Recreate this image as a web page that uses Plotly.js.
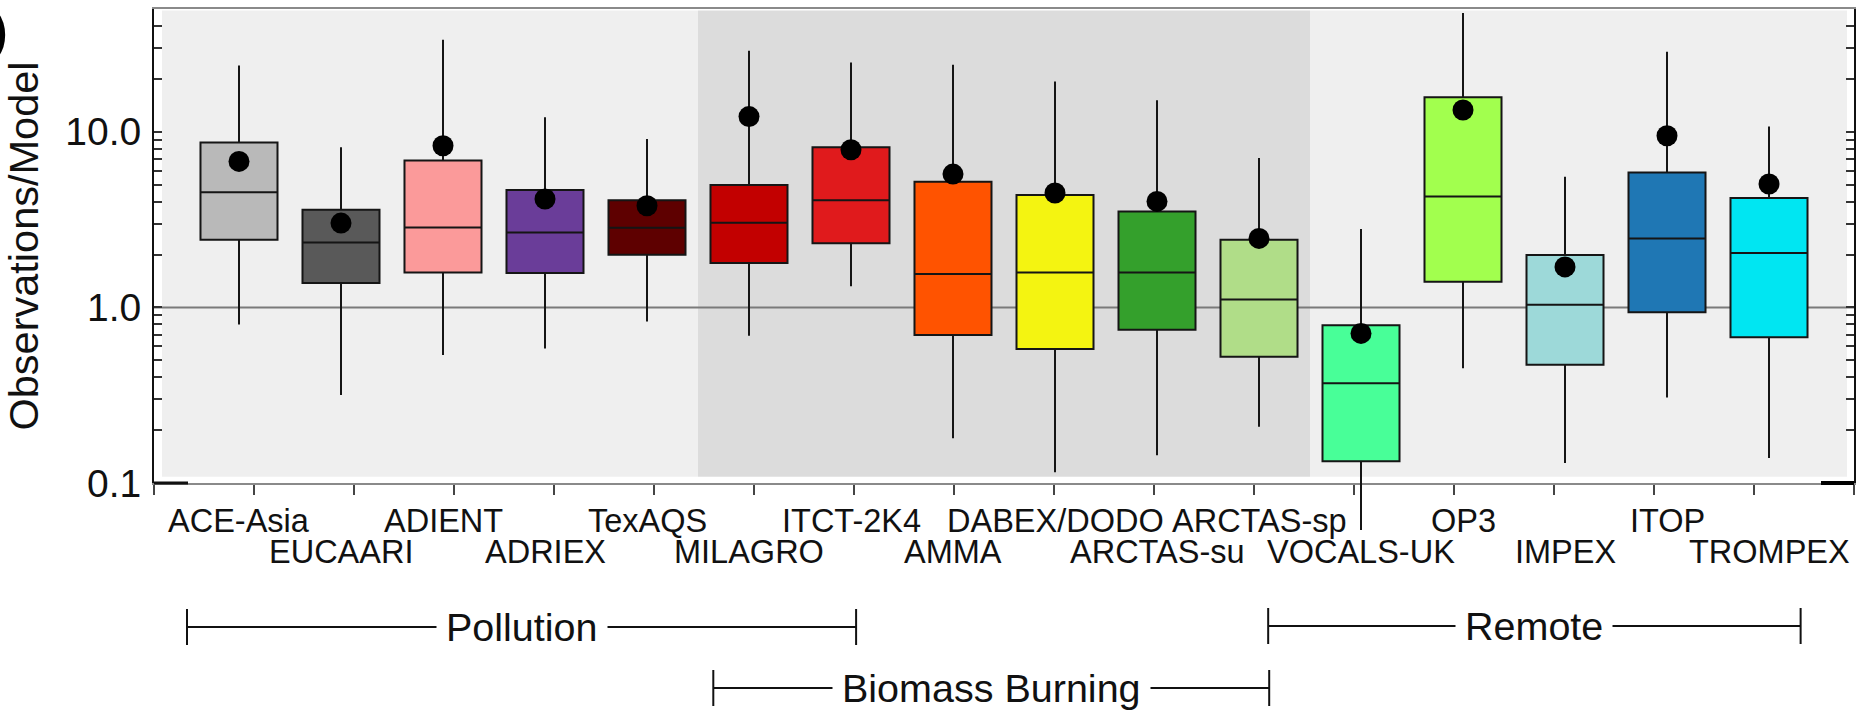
<!DOCTYPE html>
<html>
<head>
<meta charset="utf-8">
<script src="https://cdn.plot.ly/plotly-3.0.1.min.js"></script>
<style>html,body{margin:0;padding:0;background:#fff;}#chart{width:1856px;height:713px;}</style>
</head>
<body>
<div id="chart"></div>
<script>
// ---- data ----
const categories = ['ACE-Asia','EUCAARI','ADIENT','ADRIEX','TexAQS','MILAGRO','ITCT-2K4','AMMA',
  'DABEX/DODO','ARCTAS-su','ARCTAS-sp','VOCALS-UK','OP3','IMPEX','ITOP','TROMPEX'];
const upperWhisker = [23.8, 8.15, 33.4, 12.1, 9.1, 28.9, 24.8, 24.1, 19.3, 15.1, 7.1, 2.79, 47.4, 5.54, 28.5, 10.7];
const q3Values     = [8.7, 3.6, 6.87, 4.66, 4.08, 4.97, 8.15, 5.19, 4.36, 3.51, 2.43, 0.79, 15.7, 1.99, 5.87, 4.19];
const medianValues = [4.52, 2.34, 2.85, 2.67, 2.84, 3.03, 4.08, 1.55, 1.58, 1.58, 1.11, 0.37, 4.28, 1.035, 2.47, 2.04];
const q1Values     = [2.43, 1.375, 1.58, 1.57, 1.995, 1.79, 2.32, 0.696, 0.579, 0.746, 0.524, 0.133, 1.40, 0.472, 0.937, 0.675];
const lowerWhisker = [0.80, 0.317, 0.535, 0.584, 0.83, 0.69, 1.32, 0.18, 0.115, 0.144, 0.209, 0.054, 0.45, 0.130, 0.307, 0.139];
const meanValues   = [6.78, 3.02, 8.32, 4.14, 3.79, 12.2, 7.9, 5.74, 4.48, 4.01, 2.47, 0.711, 13.3, 1.70, 9.49, 5.04];
const boxColors = ['#b9b9b9','#595959','#fb9a9a','#6a3d99','#5e0000','#c20000','#e01a1c','#ff5300',
  '#f4f411','#34a02c','#b0dd88','#48ff98','#a2ff4e','#9dd9d9','#1f77b4','#00e6f2'];
const yTickVals = [0.1,0.2,0.3,0.4,0.5,0.6,0.7,0.8,0.9,1,2,3,4,5,6,7,8,9,10,20,30,40,50];
const yTickText = yTickVals.map(v => v === 0.1 ? '0.1' : v === 1 ? '1.0' : v === 10 ? '10.0' : '');
const groupNames = ['Pollution', 'Biomass Burning', 'Remote'];
const yTitle = 'Observations/Model';

// ---- layout geometry ----
const W = 1856, H = 713;
const M = {l:154, r:2, t:9, b:113};
const plotW = W - M.l - M.r, plotH = H - M.t - M.b;
const py = px => (H - M.b - px) / plotH;          // pixel row -> paper y
const pxX = px => (px - M.l) / plotW;             // pixel column -> paper x
const yTop = Math.log10(50), yBot = -1;
const axisBottomPx = 483;
const pxPerDec = (axisBottomPx - M.t) / (yTop - yBot);
const y2Bot = yBot - (H - M.b - axisBottomPx) / pxPerDec;
const xMin = -0.8333, xMax = 15.8333;
const FONT = '"Liberation Sans", Arial, Helvetica, sans-serif';
const idx = categories.map((c, i) => i);

const traces = [];
categories.forEach((c, i) => {
  traces.push({
    type: 'box', name: c, x: [idx[i]],
    q1: [q1Values[i]], median: [medianValues[i]], q3: [q3Values[i]],
    lowerfence: [lowerWhisker[i]], upperfence: [upperWhisker[i]],
    fillcolor: boxColors[i], line: {color: '#151515', width: 2},
    whiskerwidth: 0, width: 0.755, boxpoints: false,
    xaxis: 'x', yaxis: 'y2', showlegend: false, hoverinfo: 'skip'
  });
});
traces.push({
  type: 'scatter', mode: 'markers', x: idx, y: meanValues,
  marker: {color: '#000', size: 21}, xaxis: 'x', yaxis: 'y2',
  showlegend: false, hoverinfo: 'skip', cliponaxis: false
});

const grpSpan = [[-0.51, 6.05, 627], [4.65, 10.1, 688], [10.09, 15.31, 626]];
const shapes = [
  {type:'rect', xref:'x', yref:'y domain', x0:-0.755, x1:4.5, y0:0.013, y1:0.997, fillcolor:'#efefef', line:{width:0}, layer:'below'},
  {type:'rect', xref:'x', yref:'y domain', x0:4.5, x1:10.5, y0:0.013, y1:0.997, fillcolor:'#dcdcdc', line:{width:0}, layer:'below'},
  {type:'rect', xref:'x', yref:'y domain', x0:10.5, x1:15.765, y0:0.013, y1:0.997, fillcolor:'#efefef', line:{width:0}, layer:'below'},
  {type:'line', xref:'x domain', yref:'y', x0:0, x1:1, y0:1, y1:1, line:{color:'#7a7a7a', width:2}, layer:'below'},
  // dark end segments of the bottom axis
  {type:'line', xref:'paper', yref:'paper', x0:pxX(154), x1:pxX(188), y0:py(axisBottomPx), y1:py(axisBottomPx), line:{color:'#111', width:3}},
  {type:'line', xref:'paper', yref:'paper', x0:pxX(1821), x1:pxX(1854), y0:py(axisBottomPx), y1:py(axisBottomPx), line:{color:'#000', width:4}}
];
const annotations = [];
grpSpan.forEach((g, i) => {
  const [a, b, ypx] = g;
  shapes.push({type:'line', xref:'x', yref:'paper', x0:a, x1:b, y0:py(ypx), y1:py(ypx), line:{color:'#111', width:2}});
  shapes.push({type:'line', xref:'x', yref:'paper', x0:a, x1:a, y0:py(ypx-18), y1:py(ypx+18), line:{color:'#111', width:2}});
  shapes.push({type:'line', xref:'x', yref:'paper', x0:b, x1:b, y0:py(ypx-18), y1:py(ypx+18), line:{color:'#111', width:2}});
  annotations.push({xref:'x', yref:'paper', x:(a+b)/2, y:py(ypx), text:groupNames[i], showarrow:false,
    xanchor:'center', yanchor:'middle', bgcolor:'#fff', borderpad:9,
    font:{family:FONT, size:39.5, color:'#111'}});
});
categories.forEach((c, i) => {
  annotations.push({xref:'x', yref:'paper', x:idx[i], y: py(i % 2 === 0 ? 521 : 552), text:c, showarrow:false,
    xanchor:'center', yanchor:'middle', borderpad:0, font:{family:FONT, size:32.5, color:'#111'}});
});
annotations.push({xref:'paper', yref:'paper', x:pxX(9), y:py(31), text:'<b>)</b>', showarrow:false,
  xanchor:'right', yanchor:'middle', borderpad:0, font:{family:FONT, size:50, color:'#000'}});

const layout = {
  width: W, height: H, margin: M,
  paper_bgcolor: '#fff', plot_bgcolor: 'rgba(0,0,0,0)',
  showlegend: false, boxmode: 'overlay',
  font: {family: FONT, color: '#111'},
  xaxis: {type:'linear', range:[xMin, xMax], anchor:'y',
    tickmode:'linear', tick0:xMin + 1e-6, dtick:(xMax - xMin) / 17,
    ticks:'outside', ticklen:10, tickwidth:2, tickcolor:'#444', showticklabels:false,
    showline:true, linecolor:'#8a8a8a', linewidth:2, mirror:true, showgrid:false, zeroline:false},
  yaxis: {type:'log', domain:[py(axisBottomPx), 1], range:[yBot, yTop], anchor:'x',
    tickmode:'array', tickvals:yTickVals, ticktext:yTickText,
    ticks:'inside', ticklen:8, tickwidth:2, tickcolor:'#333',
    showline:true, linecolor:'#111', linewidth:2, mirror:'ticks',
    showgrid:false, zeroline:false, ticklabelstandoff:3,
    tickfont:{family:FONT, size:39, color:'#111'},
    title:{text:yTitle, font:{family:FONT, size:41.5, color:'#111'}, standoff:18}},
  yaxis2: {type:'log', domain:[0,1], range:[y2Bot, yTop], anchor:'x', visible:false,
    showgrid:false, zeroline:false},
  shapes: shapes, annotations: annotations
};
Plotly.newPlot('chart', traces, layout, {staticPlot:true, displayModeBar:false});
</script>
</body>
</html>
